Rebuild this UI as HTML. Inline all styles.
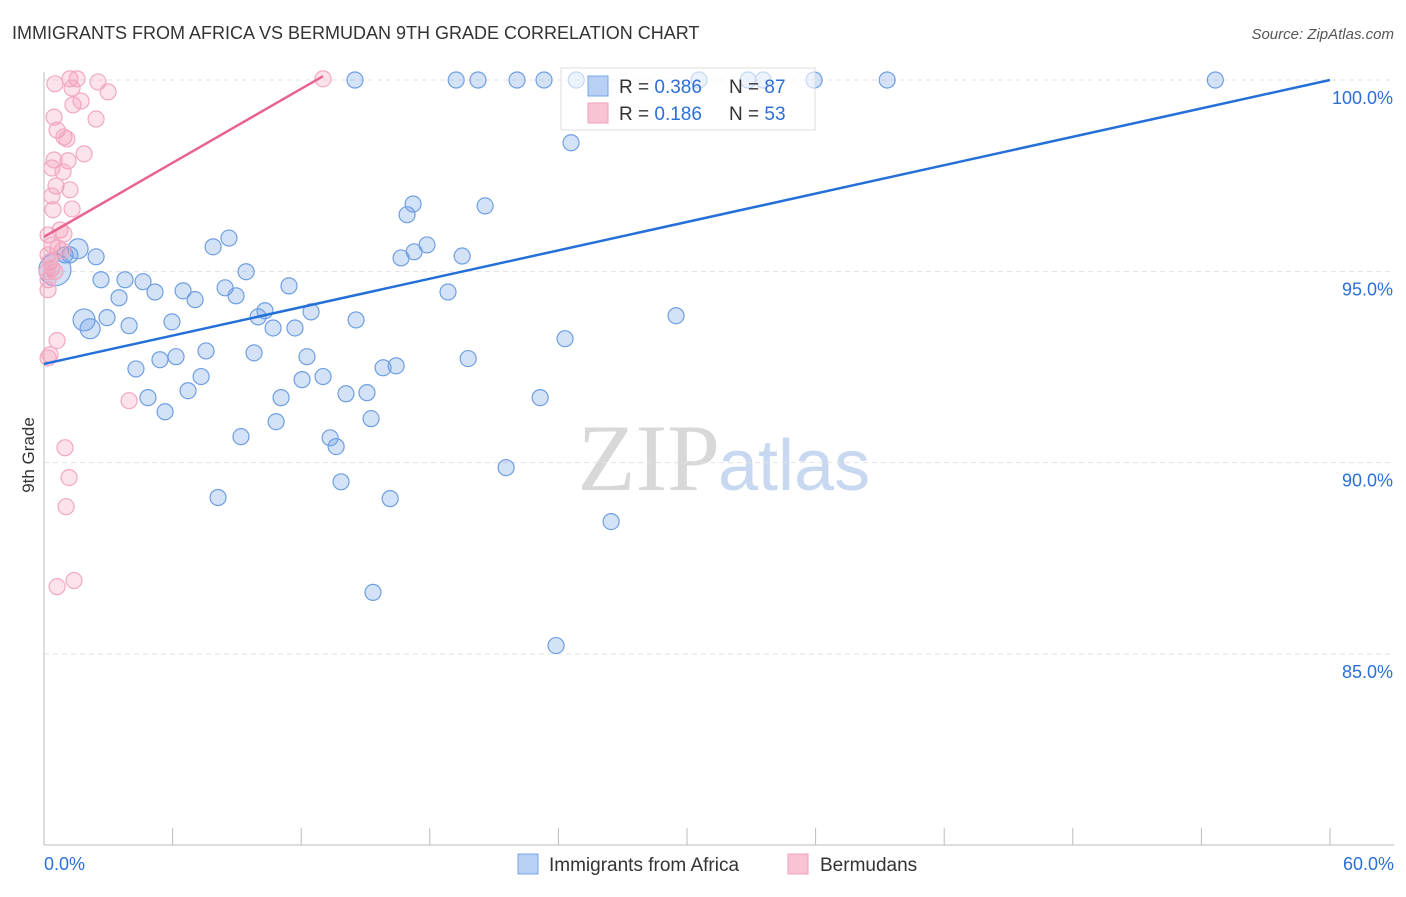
<!DOCTYPE html>
<html><head><meta charset="utf-8"><style>
body{margin:0;background:#fff;width:1406px;height:892px;overflow:hidden;font-family:"Liberation Sans",sans-serif}
</style></head><body>
<svg id="chart" width="1406" height="892" xmlns="http://www.w3.org/2000/svg">
<text x="12" y="39" font-size="18" fill="#333">IMMIGRANTS FROM AFRICA VS BERMUDAN 9TH GRADE CORRELATION CHART</text>
<text x="1394" y="39" font-size="15" fill="#555" font-style="italic" text-anchor="end">Source: ZipAtlas.com</text>
<text x="720" y="490" font-size="95" fill="#d8d8d8" font-family="Liberation Serif,serif" text-anchor="end">ZIP</text>
<text x="718" y="490" font-size="72" fill="#c8d8f0">atlas</text>
<g id="grid"></g>
<g id="axes"></g>
<g id="marks"></g>
<text transform="translate(34,455) rotate(-90)" font-size="17" fill="#333" text-anchor="middle">9th Grade</text>
<g>
<rect x="561" y="68" width="254" height="62" fill="#fff" fill-opacity="0.6" stroke="#ddd"/>
<rect x="588" y="76" width="20" height="20" fill="#b8d0f4" stroke="#7aa4e4"/>
<rect x="588" y="103" width="20" height="20" fill="#f8c4d4" stroke="#f0a0b8"/>
<text x="619" y="93" font-size="19" fill="#333">R = <tspan fill="#2b6fd8">0.386</tspan></text>
<text x="729" y="93" font-size="19" fill="#333">N = <tspan fill="#2b6fd8">87</tspan></text>
<text x="619" y="120" font-size="19" fill="#333">R = <tspan fill="#2b6fd8">0.186</tspan></text>
<text x="729" y="120" font-size="19" fill="#333">N = <tspan fill="#2b6fd8">53</tspan></text>
</g>
<g>
<rect x="518" y="854" width="20" height="20" fill="#b8d0f4" stroke="#7aa4e4"/>
<text x="549" y="871" font-size="19" fill="#333">Immigrants from Africa</text>
<rect x="788" y="854" width="20" height="20" fill="#f8c4d4" stroke="#f0a0b8"/>
<text x="820" y="871" font-size="19" fill="#333">Bermudans</text>
</g>
</svg>
<script>
const yTicks=[100,95,90,85];
const yTickLabels=["100.0%","95.0%","90.0%","85.0%"];
const xTickLabels=["0.0%","60.0%"];
const blueX=[14.51,19.23,20.25,22.07,23.33,24.83,30.56,32.85,33.55,35.93,39.34,54.65,24.59,17.22,16.94,20.58,8.63,7.89,17.87,17.27,16.66,19.51,1.59,2.43,0.98,1.21,0.51,9.43,2.66,3.78,4.62,3.50,5.18,6.49,8.45,7.05,8.96,11.43,18.85,10.31,9.99,12.46,14.56,1.87,2.94,2.15,3.97,5.97,10.69,11.71,29.49,24.31,7.56,9.80,12.27,6.16,5.41,19.79,4.29,15.82,16.43,7.33,12.04,13.02,6.72,4.85,14.09,15.07,23.15,5.65,11.06,10.83,15.26,9.19,13.35,13.63,21.56,8.12,13.86,16.15,26.46,15.35,23.89];
const blueY=[100,100,100,100,100,100,100,100,100,100,100,100,98.36,96.76,96.48,96.71,95.87,95.64,95.69,95.51,95.35,95.40,95.59,95.38,95.43,95.43,95.04,94.99,94.78,94.78,94.73,94.31,94.46,94.49,94.57,94.26,94.36,94.62,94.46,93.97,93.81,93.94,93.73,93.73,93.79,93.50,93.58,93.68,93.52,93.52,93.84,93.24,92.92,92.87,92.77,92.77,92.69,92.72,92.45,92.48,92.53,92.25,92.17,92.25,91.88,91.70,91.80,91.83,91.70,91.33,91.70,91.07,91.15,90.68,90.65,90.42,89.87,89.09,89.50,89.06,88.46,86.61,85.22];
const blueSize=[8,8,8,8,8,8,8,8,8,8,8,8,8,8,8,8,8,8,8,8,8,8,10,8,8,8,16,8,8,8,8,8,8,8,8,8,8,8,8,8,8,8,8,11,8,10,8,8,8,8,8,8,8,8,8,8,8,8,8,8,8,8,8,8,8,8,8,8,8,8,8,8,8,8,8,8,8,8,8,8,8,8,8];
const pinkX=[1.21,1.54,0.51,2.52,2.99,1.31,1.35,1.73,0.47,2.43,0.61,0.93,1.07,1.87,0.47,1.12,0.37,0.89,0.56,1.21,0.37,0.42,1.31,0.75,0.93,0.19,0.37,0.65,0.84,0.19,0.28,0.37,0.51,0.14,0.19,0.19,0.61,0.28,0.19,3.97,0.98,1.17,1.03,1.40,0.61,13.02];
const pinkY=[100.03,100.03,99.90,99.95,99.69,99.79,99.35,99.45,99.03,98.98,98.69,98.51,98.46,98.07,97.91,97.89,97.70,97.60,97.23,97.13,96.97,96.61,96.63,96.08,95.98,95.95,95.69,95.61,95.54,95.43,95.25,95.09,94.99,94.99,94.78,94.52,93.19,92.82,92.74,91.62,90.39,89.61,88.85,86.92,86.76,100.03];
const blueTrendX=[0,60], blueTrendY=[92.58,100];
const pinkTrendX=[0,13.02], pinkTrendY=[95.9,100.1];

const X0=44,X1=1330,Y100=80,Y85=654;
const sx=v=>X0+(v/60)*(X1-X0);
const sy=v=>Y100+(100-v)*(Y85-Y100)/15;
const NS="http://www.w3.org/2000/svg";
function mk(tag,attrs,parent){const e=document.createElementNS(NS,tag);for(const k in attrs)e.setAttribute(k,attrs[k]);document.getElementById(parent).appendChild(e);return e;}

yTicks.forEach((t,i)=>{
  const l=mk('line',{x1:44,x2:1394,y1:sy(t),y2:sy(t),stroke:'#e2e2e2','stroke-dasharray':'5,4'},'grid');
  
  
  const tx=mk('text',{x:1393,y:sy(t)+24,'font-size':18,fill:'#2b6fd8','text-anchor':'end'},'axes');
  tx.textContent=yTickLabels[i];
  
  
});
const ax=mk('line',{x1:44,x2:44,y1:72,y2:845,stroke:'#bbb'},'axes');


const bx=mk('line',{x1:44,x2:1394,y1:845,y2:845,stroke:'#bbb'},'axes');


for(let i=0;i<=10;i++){
  const t=mk('line',{x1:sx(i*6),x2:sx(i*6),y1:828,y2:845,stroke:'#bbb'},'axes');
  
  
}
[[0,'start',44],[60,'end',1394]].forEach((d,i)=>{
  const t=mk('text',{x:d[2],y:870,'font-size':18,fill:'#2b6fd8','text-anchor':d[1]},'axes');
  t.textContent=xTickLabels[i];
  
  
});
blueX.forEach((v,i)=>{
  const c=mk('circle',{cx:sx(v),cy:sy(blueY[i]),r:blueSize[i]||8,fill:'rgba(110,160,230,0.3)',stroke:'#6f9fe2','stroke-width':1.2},'marks');
  
  
});
pinkX.forEach((v,i)=>{
  const c=mk('circle',{cx:sx(v),cy:sy(pinkY[i]),r:8,fill:'rgba(245,150,180,0.28)',stroke:'#f2a8c0','stroke-width':1.2},'marks');
  
  
});
const bl=mk('line',{x1:sx(blueTrendX[0]),y1:sy(blueTrendY[0]),x2:sx(blueTrendX[1]),y2:sy(blueTrendY[1]),stroke:'#2470d8','stroke-width':2.5},'marks');


const pl=mk('line',{x1:sx(pinkTrendX[0]),y1:sy(pinkTrendY[0]),x2:sx(pinkTrendX[1]),y2:sy(pinkTrendY[1]),stroke:'#e8648e','stroke-width':2.5},'marks');


</script>
</body></html>
